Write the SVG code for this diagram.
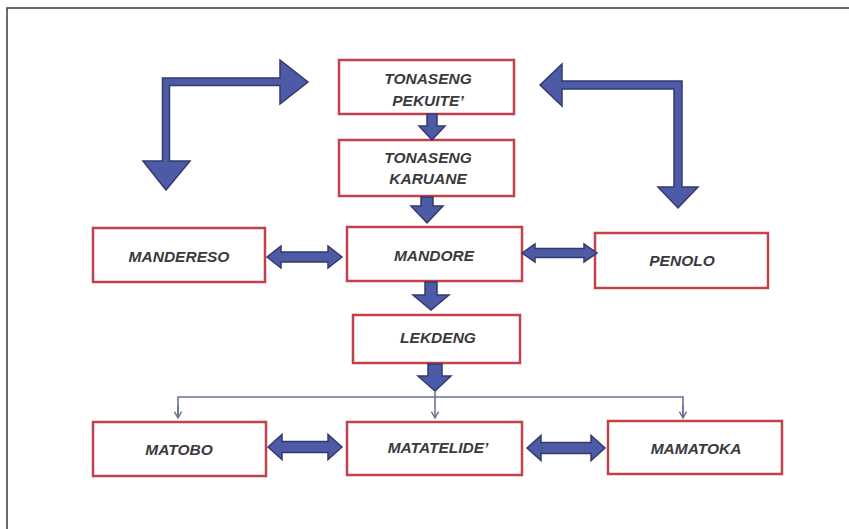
<svg xmlns="http://www.w3.org/2000/svg" width="849" height="529" viewBox="0 0 849 529">
<defs>
<style>
.box{fill:#ffffff;stroke:#c2414b;stroke-width:2.5}
.lbl{font-family:"Liberation Sans",Arial,sans-serif;font-weight:bold;font-style:italic;font-size:15.5px;fill:#3a3a3e;text-anchor:middle}
.blk{fill:#4d5ba6;stroke:#333a6c;stroke-width:1.5;stroke-linejoin:miter}
.thin{fill:none;stroke:#6c7394;stroke-width:1.6}
</style>
<marker id="ah" viewBox="0 0 10 10" refX="9" refY="5" markerWidth="9" markerHeight="9" markerUnits="userSpaceOnUse" orient="auto">
<path d="M2,1 L9,5 L2,9" fill="none" stroke="#6c7394" stroke-width="1.6"/>
</marker>
</defs>
<rect x="0" y="0" width="849" height="529" fill="#ffffff"/>
<path d="M7,529 L7,8 L849,8" fill="none" stroke="#3a3a3a" stroke-width="1.5"/>

<g id="n-pekuite">
<rect class="box" x="339" y="60" width="175" height="54"/>
<text class="lbl" x="428" y="84">TONASENG</text>
<text class="lbl" x="428" y="106">PEKUITE’</text>
</g>
<g id="n-karuane">
<rect class="box" x="339" y="140" width="175" height="56"/>
<text class="lbl" x="428" y="163">TONASENG</text>
<text class="lbl" x="428" y="184">KARUANE</text>
</g>
<g id="n-mandereso">
<rect class="box" x="93" y="228" width="172" height="54"/>
<text class="lbl" x="179" y="262">MANDERESO</text>
</g>
<g id="n-mandore">
<rect class="box" x="347" y="227" width="175" height="54"/>
<text class="lbl" x="434" y="261">MANDORE</text>
</g>
<g id="n-penolo">
<rect class="box" x="595" y="233" width="173" height="55"/>
<text class="lbl" x="682" y="266">PENOLO</text>
</g>
<g id="n-lekdeng">
<rect class="box" x="353" y="315" width="167" height="48"/>
<text class="lbl" x="438" y="343">LEKDENG</text>
</g>
<g id="n-matobo">
<rect class="box" x="93" y="422" width="173" height="54"/>
<text class="lbl" x="179" y="455">MATOBO</text>
</g>
<g id="n-matatelide">
<rect class="box" x="347" y="422" width="175" height="53"/>
<text class="lbl" x="438" y="453">MATATELIDE’</text>
</g>
<g id="n-mamatoka">
<rect class="box" x="608" y="421" width="174" height="53"/>
<text class="lbl" x="696" y="454">MAMATOKA</text>
</g>

<g id="connectors">
<polygon class="blk" points="166,190 143,161 162.5,161 162.5,78 280,78 280,60 308,82 280,104 280,85.5 169.5,85.5 169.5,161 190,161"/>
<polygon class="blk" points="540,85 562,64 562,81 682,81 682,187 698,187 678,208 658,187 674,187 674,89 562,89 562,106"/>
<polygon class="blk" points="427,114 437,114 437,126 445,126 432,140 419,126 427,126"/>
<polygon class="blk" points="421,197 433,197 433,206 443,206 427,223 411,206 421,206"/>
<polygon class="blk" points="425,282 437,282 437,295 449,295 431,310 413,295 425,295"/>
<polygon class="blk" points="428,364 442,364 442,376 451,376 435,391 418,376 428,376"/>
<polygon class="blk" points="267,257 281,246 281,252 328,252 328,246 342,257 328,268 328,262 281,262 281,268"/>
<polygon class="blk" points="522,253 535,244 535,248.5 584,248.5 584,244 597,253 584,262 584,257.5 535,257.5 535,262"/>
<polygon class="blk" points="268,447 282,434.5 282,441.5 328,441.5 328,434.5 342,447 328,459.5 328,452.5 282,452.5 282,459.5"/>
<polygon class="blk" points="527,448 541,435.5 541,442.5 591,442.5 591,435.5 605,448 591,460.5 591,453.5 541,453.5 541,460.5"/>
<path class="thin" d="M178,418 L178,397 L683,397 L683,418"/>
<path class="thin" d="M178,405 L178,418" marker-end="url(#ah)"/>
<path class="thin" d="M435,391 L435,418" marker-end="url(#ah)"/>
<path class="thin" d="M683,405 L683,418" marker-end="url(#ah)"/>
</g>
</svg>
